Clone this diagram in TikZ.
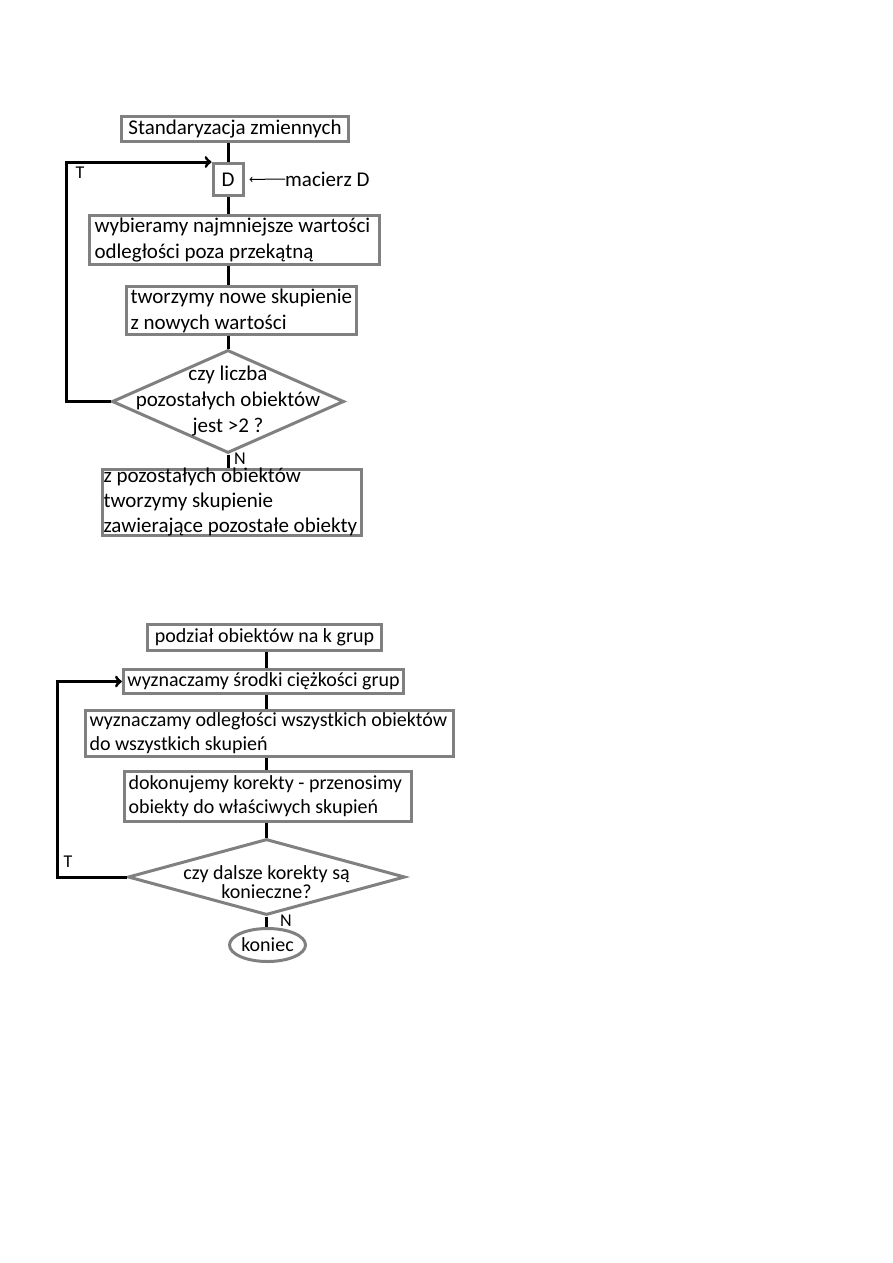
\documentclass[tikz,border=0pt]{standalone}
\usepackage{fontspec}
\setmainfont{Carlito}
\usetikzlibrary{shapes.geometric, arrows, positioning}

\begin{document}
\begin{tikzpicture}[
    x=1pt, y=-1pt,
    every node/.style={font=\fontsize{21}{26}\selectfont},
    box/.style={rectangle, draw=gray, line width=3pt, fill=white, align=flush left, inner xsep=4pt, inner ysep=2pt,
                execute at begin node={\spaceskip=0pt\xspaceskip=0pt\relax}},
    dec/.style={diamond, draw=gray, line width=3pt, fill=white, inner sep=0pt},
    stop/.style={ellipse, draw=gray, line width=3pt, fill=white, inner sep=0pt},
    flow/.style={black, line width=3pt},
    tag/.style={font=\fontsize{18}{20}\selectfont, inner sep=0pt}
]
\useasboundingbox (0,0) rectangle (893,1263);

% pierwszy schemat
\node[box, minimum width=227pt, minimum height=25pt, inner ysep=0pt, align=center] (std) at (235,129) {Standaryzacja zmiennych};
\node[box, minimum width=30pt, minimum height=32pt, inner sep=0pt, align=center] (D) at (228,179.5) {D};
\node[inner sep=0pt, anchor=west] (mac) at (285,179) {macierz D};
\node[box, minimum width=290pt, minimum height=47pt, text width=280pt] (wyb) at (234.5,240) {wybieramy najmniejsze wartości\\odległości poza przekątną};
\node[box, minimum width=230pt, minimum height=44pt, text width=222pt] (two) at (241.5,310.5) {tworzymy nowe skupienie\\z nowych wartości};
\node[dec, minimum width=232pt, minimum height=103pt,
      label={[align=center]center:czy liczba\\pozostałych obiektów\\jest >2 ?}] (q1) at (228,401.5) {};
\node[box, minimum width=259pt, minimum height=66pt, text width=257pt, inner xsep=1pt, inner ysep=-5pt,
      font=\fontsize{21}{25}\selectfont] (zpo) at (232,502.5) {z pozostałych obiektów\\tworzymy skupienie\\zawierające pozostałe obiekty};

\draw[flow] (std.south -| D) -- (D.north);
\draw[flow] (D.south) -- (D.south |- wyb.north);
\draw[flow] (wyb.south -| D) -- (two.north -| D);
\draw[flow] (two.south -| D) -- (q1.north);
\draw[flow] (q1.south) -- (zpo.north -| q1);
\draw[->, line width=1pt, shorten >=5pt] (mac.west) -- (D.east);
\draw[flow, ->] (q1.west) -- ++(-44,0) |- (D.north west);
\node[tag] (t1) at (80,173) {T};
\node[tag] (n1) at (240,459) {N};

% drugi schemat
\begin{scope}[every node/.append style={font=\fontsize{20}{24}\selectfont}]
\node[box, minimum width=234pt, minimum height=26pt, inner ysep=0pt, align=center] (pod) at (264.5,637.5) {podział obiektów na k grup};
\node[box, minimum width=280pt, minimum height=24pt, inner ysep=0pt, align=center] (srod) at (263.5,681.5) {wyznaczamy środki ciężkości grup};
\node[box, minimum width=368pt, minimum height=44pt, text width=360pt] (odl) at (269.5,733.5) {wyznaczamy odległości wszystkich obiektów\\do wszystkich skupień};
\node[box, minimum width=287pt, minimum height=50pt, text width=279pt] (dok) at (268,796.5) {dokonujemy korekty - przenosimy\\obiekty do właściwych skupień};
\node[dec, minimum width=277pt, minimum height=76pt,
      label={[align=center, yshift=-5pt, font=\fontsize{20}{19}\selectfont]center:czy dalsze korekty są\\konieczne?}] (q2) at (266.5,877) {};
\node[stop, minimum width=76pt, minimum height=33pt] (end) at (267.5,945) {koniec};
\end{scope}

\draw[flow] (pod.south -| q2) -- (srod.north -| q2);
\draw[flow] (srod.south -| q2) -- (odl.north -| q2);
\draw[flow] (odl.south -| q2) -- (dok.north -| q2);
\draw[flow] (dok.south -| q2) -- (q2.north);
\draw[flow] (q2.south) -- (end.north -| q2);
\draw[flow, ->] (q2.west) -- ++(-69,0) |- (srod.west);
\node[tag] (t2) at (68,862) {T};
\node[tag] (n2) at (286,921) {N};
\end{tikzpicture}
\end{document}
